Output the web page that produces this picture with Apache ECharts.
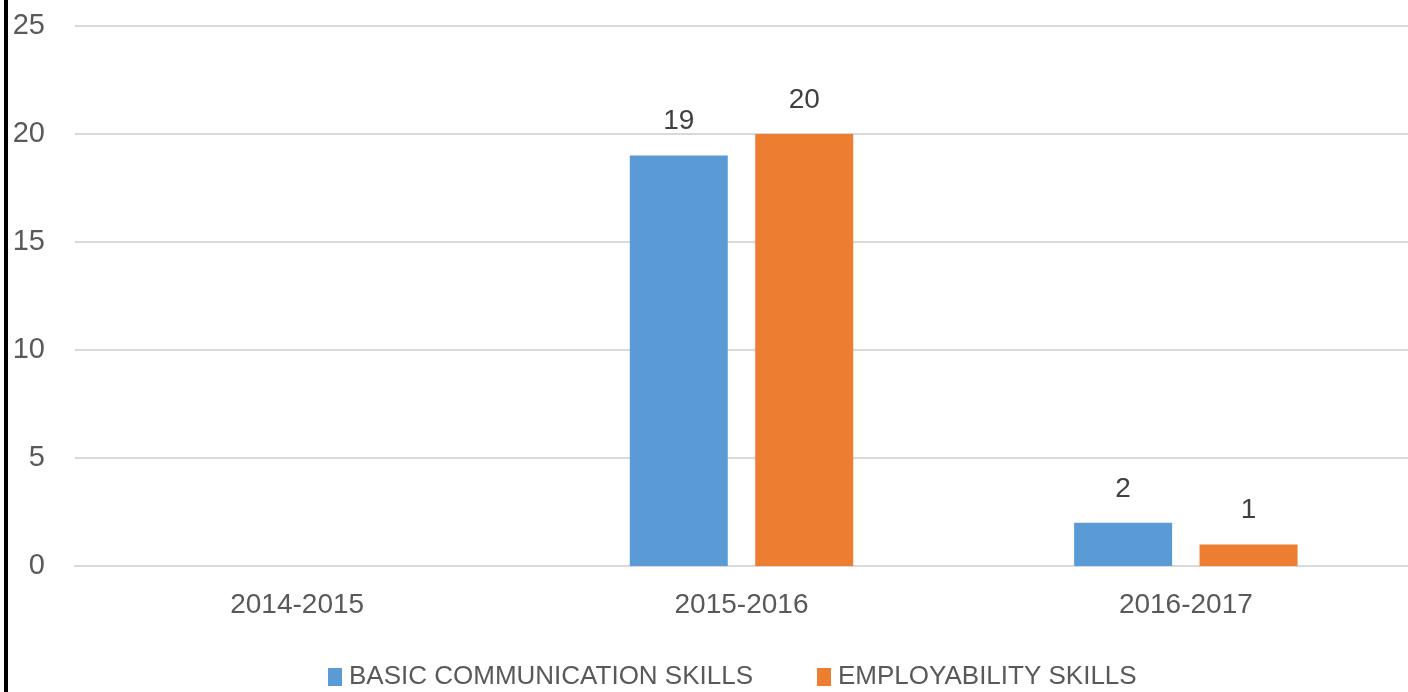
<!DOCTYPE html>
<html><head><meta charset="utf-8">
<script src="https://cdn.jsdelivr.net/npm/echarts@6/dist/echarts.min.js"></script>
<style>html,body{margin:0;padding:0;background:#fff}#c{width:1408px;height:692px}</style>
</head><body><div id="c"></div>
<script>
const categories = ['2014-2015', '2015-2016', '2016-2017'];
const basicCommunication = [null, 19, 2];
const employability = [null, 20, 1];
const seriesNames = ['BASIC COMMUNICATION SKILLS', 'EMPLOYABILITY SKILLS'];
const yTicks = { min: 0, max: 25, interval: 5 };

const font = 'Liberation Sans, Arial, sans-serif';
const chart = echarts.init(document.getElementById('c'));
const label = { show: true, position: 'top', distance: 20, color: '#404040', fontSize: 28, fontFamily: font };
chart.setOption({
  animation: false,
  textStyle: { fontFamily: font },
  graphic: [{ type: 'rect', shape: { x: 4, y: 0, width: 4, height: 692 }, style: { fill: '#000' } }],
  grid: { left: 75, right: 0, top: 26, bottom: 126 },
  legend: {
    top: 659, left: 323, itemWidth: 14, itemHeight: 18, itemGap: 64,
    icon: 'rect',
    textStyle: { color: '#595959', fontSize: 26, fontFamily: font, padding: [0, 0, 0, 2] },
    data: seriesNames
  },
  xAxis: {
    type: 'category', data: categories,
    axisLine: { lineStyle: { color: '#d9d9d9', width: 2 } },
    axisTick: { show: false },
    axisLabel: { color: '#595959', fontSize: 28, fontFamily: font, margin: 25 }
  },
  yAxis: {
    type: 'value', min: yTicks.min, max: yTicks.max, interval: yTicks.interval,
    axisLine: { show: false }, axisTick: { show: false },
    axisLabel: { color: '#595959', fontSize: 29, fontFamily: font, margin: 30 },
    splitLine: { lineStyle: { color: '#d9d9d9', width: 2 } }
  },
  series: [
    { name: seriesNames[0], type: 'bar', data: basicCommunication, barWidth: 98, barGap: '28%', itemStyle: { color: '#5B9BD5' }, label: label },
    { name: seriesNames[1], type: 'bar', data: employability, barWidth: 98, itemStyle: { color: '#ED7D31' }, label: label }
  ]
});
</script></body></html>
